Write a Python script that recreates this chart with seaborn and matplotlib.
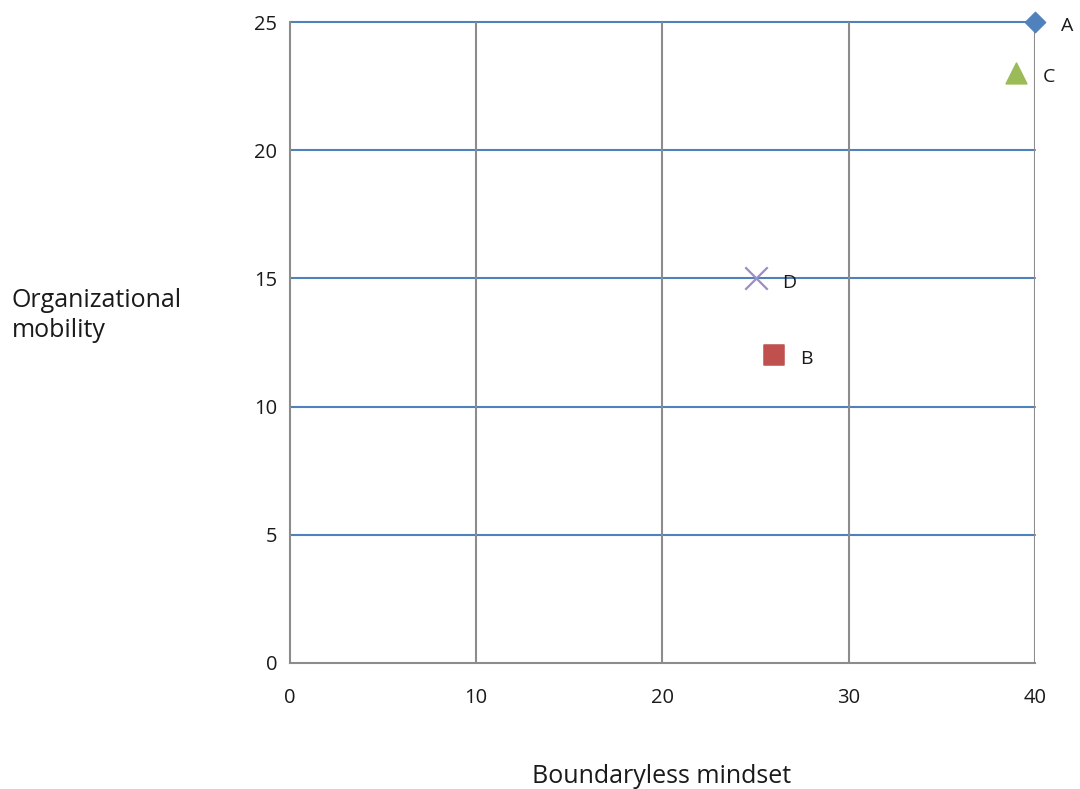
import matplotlib
matplotlib.use("Agg")
import matplotlib.pyplot as plt
import seaborn as sns
import pandas as pd

# Series data
labels = ["A", "B", "C", "D"]
mindset = [40, 26, 39, 25]
mobility = [25, 12, 23, 15]
x_ticks = [0, 10, 20, 30, 40]
y_ticks = [0, 5, 10, 15, 20, 25]

colors = {"A": "#4F81BD", "B": "#C0504D", "C": "#9BBB59", "D": "#9E8CC4"}
markers = {"A": "D", "B": "s", "C": "^", "D": "x"}
sizes = {"A": 110, "B": 190, "C": 220, "D": 260}

df = pd.DataFrame({"label": labels, "mindset": mindset, "mobility": mobility})

sns.set_style("white")
plt.rcParams["font.family"] = ["Open Sans", "DejaVu Sans"]

fig = plt.figure(figsize=(10.8, 7.89), dpi=100)
ax = fig.add_axes([0.2685, 0.1597, 0.6898, 0.8124])

ax.set_xlim(0, 40)
ax.set_ylim(0, 25)
ax.set_xticks(x_ticks)
ax.set_yticks(y_ticks)

# Grid: horizontal lines blue, vertical lines gray
for y in y_ticks[1:]:
    ax.axhline(y, color="#4F81BD", lw=1.5, zorder=1, clip_on=False)
for x in x_ticks[1:]:
    ax.axvline(x, color="#8C8C8C", lw=1.5, zorder=1)

for s in ["top", "right"]:
    ax.spines[s].set_visible(False)
for s in ["left", "bottom"]:
    ax.spines[s].set_color("#8C8C8C")
    ax.spines[s].set_linewidth(1.5)

ax.tick_params(axis="both", direction="out", length=6, width=1.5, color="#8C8C8C",
               labelsize=14.5, labelcolor="#1a1a1a")
ax.tick_params(axis="x", pad=12)
ax.tick_params(axis="y", pad=3)

for lab in labels:
    sub = df[df["label"] == lab]
    kw = dict(data=sub, x="mindset", y="mobility", ax=ax, marker=markers[lab],
              color=colors[lab], s=sizes[lab], zorder=3, clip_on=False, legend=False)
    if markers[lab] == "x":
        kw["linewidth"] = 1.6
    else:
        kw["edgecolor"] = colors[lab]
    sns.scatterplot(**kw)
    ax.annotate(lab, (sub["mindset"].iloc[0], sub["mobility"].iloc[0]),
                xytext=(19, -3), textcoords="offset points", fontsize=14,
                color="#1a1a1a", va="center", ha="left", annotation_clip=False)

ax.set_xlabel("")
ax.set_ylabel("")
fig.text(0.6125, 0.0, "Boundaryless mindset", ha="center", va="bottom",
         fontsize=18, color="#1a1a1a")
fig.text(0.011, 0.6, "Organizational\nmobility", ha="left", va="center",
         fontsize=18, color="#1a1a1a", linespacing=1.3)

fig.savefig("out.png", dpi=100)
